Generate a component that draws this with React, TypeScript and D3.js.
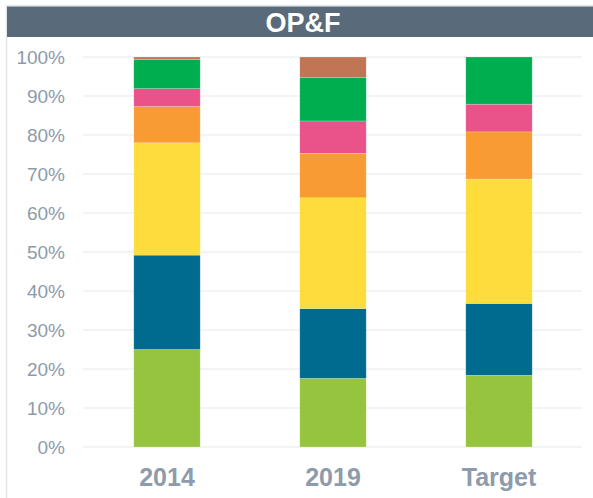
import React from "react";
import * as d3 from "d3";

const categories = ["2014", "2019", "Target"];
const seriesNames = ["s1", "s2", "s3", "s4", "s5", "s6", "s7"];
const seriesColors = ["#96c43e", "#006a8f", "#fedc3c", "#f99b33", "#e9538a", "#00ae4f", "#c07555"];
const values2014 = [25.0, 24.2, 28.8, 9.3, 4.6, 7.5, 0.6];
const values2019 = [17.6, 17.9, 28.4, 11.4, 8.3, 11.2, 5.2];
const valuesTarget = [18.4, 18.4, 31.9, 12.1, 7.1, 12.1, 0.0];
const yTicks = [0, 10, 20, 30, 40, 50, 60, 70, 80, 90, 100];
const title = "OP&F";

const W = 593;
const H = 498;

export default function App() {
  const rows = [values2014, values2019, valuesTarget].map((vals, i) => {
    const r: any = { cat: categories[i] };
    seriesNames.forEach((s, j) => (r[s] = vals[j]));
    return r;
  });
  const stacked = d3.stack().keys(seriesNames)(rows);

  const x = d3.scaleBand().domain(categories).range([84, 582]).paddingInner(0.6).paddingOuter(0.3);
  const y = d3.scaleLinear().domain([0, 100]).range([447, 57]);

  return (
    <svg width={W} height={H} style={{ position: "absolute", left: 0, top: 0, fontFamily: "'Liberation Sans', Arial, sans-serif" }}>
      <rect x={0} y={0} width={W} height={H} fill="#fff" />
      {/* panel border */}
      <line x1={6.5} y1={5} x2={6.5} y2={H} stroke="#e3e6ea" strokeWidth={1.5} />
      <line x1={6} y1={5.5} x2={W} y2={5.5} stroke="#e3e6ea" strokeWidth={1.5} />
      {/* header */}
      <rect x={7} y={6.5} width={W - 7} height={30.5} fill="#596a7a" />
      <text x={(7 + W) / 2 + 3} y={32} textAnchor="middle" fill="#fff" fontSize={27} fontWeight="bold">
        {title}
      </text>
      {/* grid */}
      {yTicks.map((t) => (
        <g key={t}>
          <line x1={83} x2={582} y1={y(t)} y2={y(t)} stroke="#e6e9ed" strokeWidth={1} />
          <text x={65} y={y(t) + 6.5} textAnchor="end" fill="#8d9bab" fontSize={19}>
            {t}%
          </text>
        </g>
      ))}
      {/* bars */}
      {stacked.map((layer, i) => (
        <g key={layer.key} fill={seriesColors[i]}>
          {layer.map((d: any, k: number) => {
            const h = y(d[0]) - y(d[1]);
            if (h <= 0) return null;
            return (
              <rect
                key={k}
                x={x(d.data.cat)}
                y={y(d[1])}
                width={x.bandwidth()}
                height={h}
                stroke="rgba(255,255,255,0.35)"
                strokeWidth={0.6}
              />
            );
          })}
        </g>
      ))}
      {/* x labels */}
      {categories.map((c) => (
        <text key={c} x={(x(c) as number) + x.bandwidth() / 2} y={486} textAnchor="middle" fill="#8d9bab" fontSize={25} fontWeight="bold">
          {c}
        </text>
      ))}
    </svg>
  );
}
